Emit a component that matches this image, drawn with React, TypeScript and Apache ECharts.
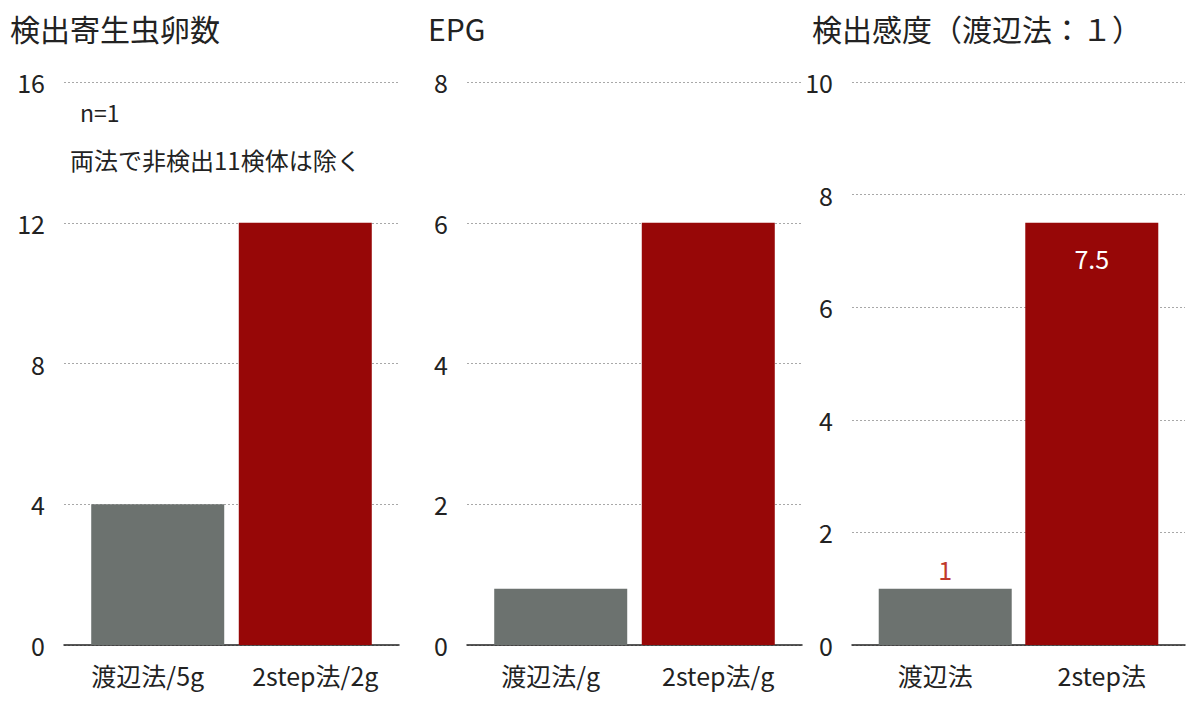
import React, { useEffect, useRef } from "react";
import * as echarts from "echarts";

const FONT = "'Noto Sans CJK JP', 'Noto Sans', sans-serif";

const panelTitles = ["検出寄生虫卵数", "EPG", "検出感度（渡辺法：１）"];

const eggCategories = ["渡辺法/5g", "2step法/2g"];
const eggValues = [4, 12];
const eggTicks = { min: 0, max: 16, interval: 4 };

const epgCategories = ["渡辺法/g", "2step法/g"];
const epgValues = [0.8, 6];
const epgTicks = { min: 0, max: 8, interval: 2 };

const sensCategories = ["渡辺法", "2step法"];
const sensValues = [1, 7.5];
const sensTicks = { min: 0, max: 10, interval: 2 };

const noteLines = ["n=1", "両法で非検出11検体は除く"];

const GRAY = "#6c726f";
const RED = "#970707";
const TEXT = "#222";

export default function App() {
  const ref = useRef<HTMLDivElement>(null);

  useEffect(() => {
    if (!ref.current) return;
    const chart = echarts.init(ref.current, null, { renderer: "svg" });

    const grids = [
      { left: 64, width: 335, top: 82, height: 563 },
      { left: 467, width: 335, top: 82, height: 563 },
      { left: 852, width: 333, top: 82, height: 563 },
    ];
    const cats = [eggCategories, epgCategories, sensCategories];
    const vals = [eggValues, epgValues, sensValues];
    const ticks = [eggTicks, epgTicks, sensTicks];

    const xAxis = cats.map((c, i) => ({
      type: "category",
      gridIndex: i,
      data: c,
      axisLine: { lineStyle: { color: TEXT, width: 1.5 } },
      axisTick: { show: false },
      axisLabel: { fontSize: 25, color: TEXT, fontFamily: FONT, margin: 17 },
    }));
    const yAxis = ticks.map((t, i) => ({
      type: "value",
      gridIndex: i,
      min: t.min,
      max: t.max,
      interval: t.interval,
      axisLine: { show: false },
      axisTick: { show: false },
      axisLabel: { fontSize: 25, color: TEXT, fontFamily: FONT, margin: 19 },
      splitLine: { lineStyle: { color: "#a8a8a8", type: [2, 2], width: 1 } },
    }));

    const series: any[] = [];
    vals.forEach((v, i) => {
      const isSens = i === 2;
      series.push({
        type: "bar",
        xAxisIndex: i,
        yAxisIndex: i,
        barWidth: 133,
        barGap: "-115%",
        data: [v[0], "-"],
        itemStyle: { color: GRAY },
        label: isSens
          ? {
              show: true,
              position: "top",
              distance: 7,
              color: "#c0392b",
              fontSize: 25,
              fontFamily: FONT,
            }
          : { show: false },
      });
      series.push({
        type: "bar",
        xAxisIndex: i,
        yAxisIndex: i,
        barWidth: 133,
        barGap: "-115%",
        data: ["-", v[1]],
        itemStyle: { color: RED },
        label: isSens
          ? {
              show: true,
              position: "insideTop",
              distance: 23,
              color: "#fff",
              fontSize: 25,
              fontFamily: FONT,
            }
          : { show: false },
      });
    });

    const titleLefts = [5, 423, 807];
    const title = panelTitles.map((t, i) => ({
      text: t,
      left: titleLefts[i],
      top: 8,
      textStyle: { fontSize: 30, fontWeight: "normal", color: TEXT, fontFamily: FONT },
    }));

    chart.setOption({
      animation: false,
      backgroundColor: "#fff",
      title,
      grid: grids,
      xAxis,
      yAxis,
      series,
      graphic: [
        {
          type: "text",
          x: 80,
          y: 112,
          style: { text: noteLines[0], fontSize: 23, fill: TEXT, fontFamily: FONT, verticalAlign: "middle" },
        },
        {
          type: "text",
          x: 70,
          y: 159,
          style: { text: noteLines[1], fontSize: 24, fill: TEXT, fontFamily: FONT, verticalAlign: "middle" },
        },
      ],
    });

    return () => chart.dispose();
  }, []);

  return (
    <div
      ref={ref}
      style={{ position: "fixed", left: 0, top: 0, width: 1189, height: 701, background: "#fff" }}
    />
  );
}
